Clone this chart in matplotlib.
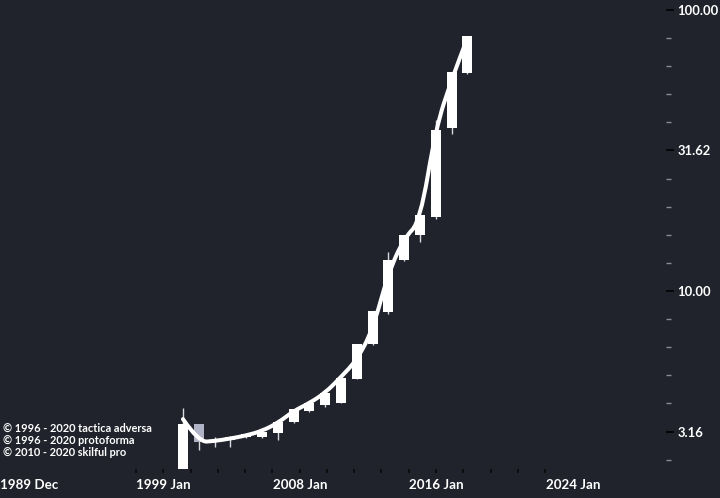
import numpy as np
import matplotlib
matplotlib.use('Agg')
import matplotlib.pyplot as plt
from matplotlib.path import Path
from matplotlib.patches import PathPatch

# yearly candles (index 0..18), values
opens  = [2.00, 3.355, 2.89, 2.95, 3.03, 3.02, 3.12, 3.43, 3.75, 3.93, 4.00,
          4.88, 6.48, 8.44, 12.89, 15.82, 18.38, 37.9, 59.5]
highs  = [3.83, 3.36, 3.03, 3.05, 3.12, 3.15, 3.43, 3.79, 4.00, 4.33, 4.89,
          6.50, 8.51, 13.8, 15.82, 18.64, 40.6, 60.0, 81.0]
lows   = [1.90, 2.72, 2.79, 2.79, 3.00, 3.00, 2.95, 3.40, 3.72, 3.88, 3.98,
          4.85, 6.42, 8.30, 12.80, 14.98, 18.1, 36.1, 59.0]
closes = [3.355, 2.894, 2.93, 3.03, 3.10, 3.14, 3.43, 3.79, 4.00, 4.33, 4.89,
          6.48, 8.51, 12.89, 15.82, 18.64, 37.4, 60.0, 81.0]
# smoothed trend line
trend  = [3.50, 2.90, 2.925, 2.985, 3.06, 3.176, 3.39, 3.74, 3.99, 4.34, 4.94,
          5.68, 7.26, 11.59, 15.44, 17.6, 38.0, 56.4, 79.5]

ytick_vals = [10**0.5, 10**1.0, 10**1.5, 10**2.0]
ytick_labels = ['3.16', '10.00', '31.62', '100.00']
xtick_labels = ['1989 Dec', '1999 Jan', '2008 Jan', '2016 Jan', '2024 Jan']
credits = ['\u00a9 1996 - 2020 tactica adversa',
           '\u00a9 1996 - 2020 protoforma',
           '\u00a9 2010 - 2020 skilful pro']

bg = '#20232b'
up_col = '#ffffff'
down_col = '#b0b2c6'

plt.rcParams['font.family'] = ['Lato', 'DejaVu Sans']

fig = plt.figure(figsize=(7.2, 4.98), dpi=100, facecolor=bg)
ax = fig.add_axes([0, 29/498, 666/720, 469/498])
ax.set_facecolor(bg)
ax.set_yscale('log')

x = np.arange(len(closes))
for i in x:
    o, h, l, c = opens[i], highs[i], lows[i], closes[i]
    col = up_col if c >= o else down_col
    ax.vlines(i, l, h, color='#d8d8e0', lw=1.0, zorder=2)
    ax.bar(i, abs(c - o), bottom=min(o, c), width=0.64, color=col,
           edgecolor='none', zorder=3)

# smooth line through trend values (quadratic bezier through midpoints)
pts = list(zip(x, trend))
verts = [pts[0]]
codes = [Path.MOVETO]
for k in range(1, len(pts) - 1):
    mid = ((pts[k][0] + pts[k + 1][0]) / 2, np.sqrt(pts[k][1] * pts[k + 1][1]))
    verts += [pts[k], mid]
    codes += [Path.CURVE3, Path.CURVE3]
verts.append(pts[-1])
codes.append(Path.LINETO)
ax.add_patch(PathPatch(Path(verts, codes), fill=False, edgecolor='white',
                       lw=2.9, capstyle='round', joinstyle='round', zorder=4))

# x ticks: labels every 8.633 candles, small marks every fifth of that
step = 8.633
ax.set_xticks([-11.58 + step * k for k in range(5)])
ax.set_xticklabels(xtick_labels, ha='left', color='white', fontsize=9.6,
                   fontweight='bold')
ax.set_xticks([-2.975 + step / 5 * k for k in range(16)], minor=True)
ax.tick_params(axis='x', which='major', length=0, pad=7)
ax.tick_params(axis='x', which='minor', length=3, width=1.2, color='#0a0a0a')

ax.yaxis.tick_right()
ax.set_yticks(ytick_vals)
ax.set_yticklabels(ytick_labels, color='white', fontsize=9.4, fontweight='bold')
minor_y = [10**(k / 10) for k in range(4, 21) if k % 5 != 0]
ax.set_yticks(minor_y, minor=True)
ax.yaxis.set_minor_formatter(plt.NullFormatter())
ax.tick_params(axis='y', which='major', length=6, width=1.3, color='#050505',
               pad=2)
ax.tick_params(axis='y', which='minor', length=3.5, width=1, color='#8a8c94')

# limits last, so the tick calls cannot widen them
ax.set_xlim(-11.58, 30.57)
ax.set_ylim(10**(2 - 459/281), 10**(2 + 10/281))

for s in ax.spines.values():
    s.set_visible(False)

for j, t in enumerate(credits):
    fig.text(3/720, 1 - (428 + 12 * j)/498, t, color='white', fontsize=7.9,
             fontweight='bold', va='center', ha='left')

fig.savefig('out.png', dpi=100, facecolor=bg)
